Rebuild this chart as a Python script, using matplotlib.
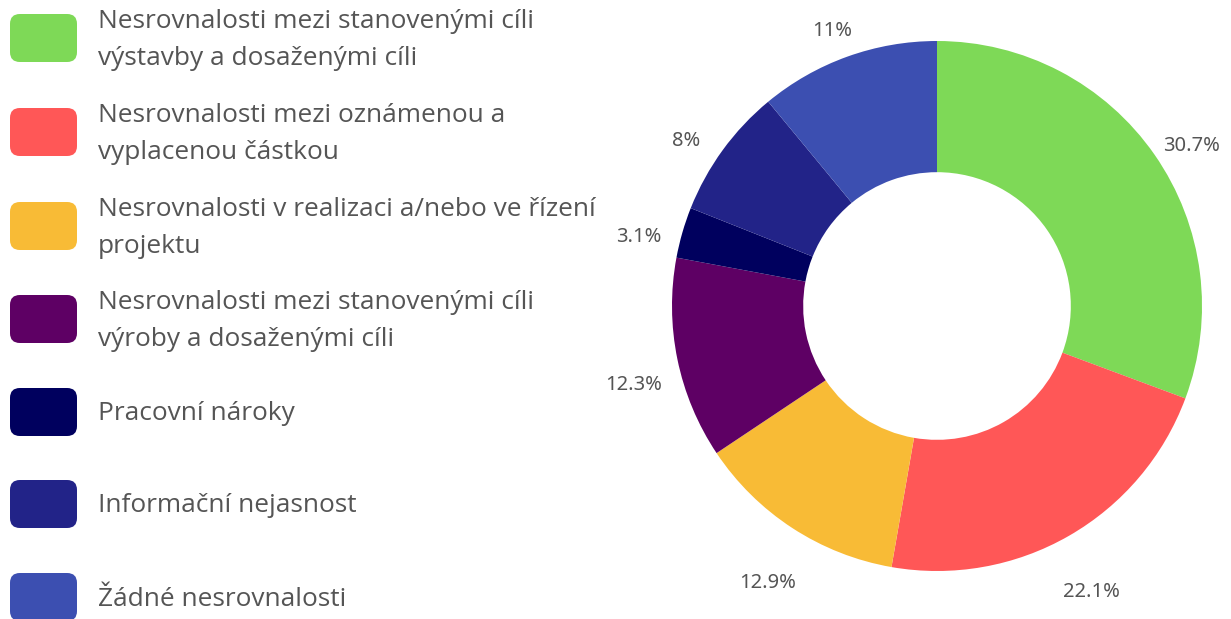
import matplotlib.pyplot as plt
import matplotlib.transforms as mtransforms
from matplotlib.patches import FancyBboxPatch

categories = [
    "Nesrovnalosti mezi stanovenými cíli\nvýstavby a dosaženými cíli",
    "Nesrovnalosti mezi oznámenou a\nvyplacenou částkou",
    "Nesrovnalosti v realizaci a/nebo ve řízení\nprojektu",
    "Nesrovnalosti mezi stanovenými cíli\nvýroby a dosaženými cíli",
    "Pracovní nároky",
    "Informační nejasnost",
    "Žádné nesrovnalosti",
]
values = [30.7, 22.1, 12.9, 12.3, 3.1, 8, 11]
pct_labels = ["30.7%", "22.1%", "12.9%", "12.3%", "3.1%", "8%", "11%"]
colors = ["#7ED957", "#FF5757", "#F8BB36", "#5E0064", "#00005E", "#222388", "#3C4FB1"]

W, H = 1231, 619
fig = plt.figure(figsize=(W / 100, H / 100), dpi=100)

# donut: centre (937, 306) px, outer radius 265 px
R = 265
cx, cy = 937, H - 306
hw, hh = 330, 300
ax = fig.add_axes([(cx - hw) / W, (cy - hh) / H, 2 * hw / W, 2 * hh / H])

wedges, texts = ax.pie(values, colors=colors, startangle=90, counterclock=False,
                       labels=pct_labels, labeldistance=1.17,
                       wedgeprops=dict(width=0.495, linewidth=0),
                       textprops=dict(fontsize=14.5, color="#555555", family="Noto Sans"))
shift = mtransforms.ScaledTranslation(0, -17 / 100, fig.dpi_scale_trans)
for t in texts:
    t.set_ha("center")
    t.set_va("center")
    t.set_transform(t.get_transform() + shift)
ax.set_xlim(-hw / R, hw / R)
ax.set_ylim(-hh / R, hh / R)
ax.set_aspect("equal")
ax.axis("off")

# legend
row_y = [38, 132, 226, 319, 412, 504, 597]
for name, col, yc in zip(categories, colors, row_y):
    sw, sh = 67, 48
    box = FancyBboxPatch((10 / W, (H - yc - sh / 2) / H), sw / W, sh / H,
                         boxstyle="round,pad=0,rounding_size=0.008",
                         transform=fig.transFigure, facecolor=col, edgecolor="none",
                         mutation_aspect=W / H)
    fig.patches.append(box)
    fig.text(98 / W, (H - yc - 2) / H, name, fontsize=18.9, color="#555555",
             family="Open Sans", va="center", ha="left", linespacing=1.62)

fig.savefig("out.png", dpi=100, facecolor="white")
